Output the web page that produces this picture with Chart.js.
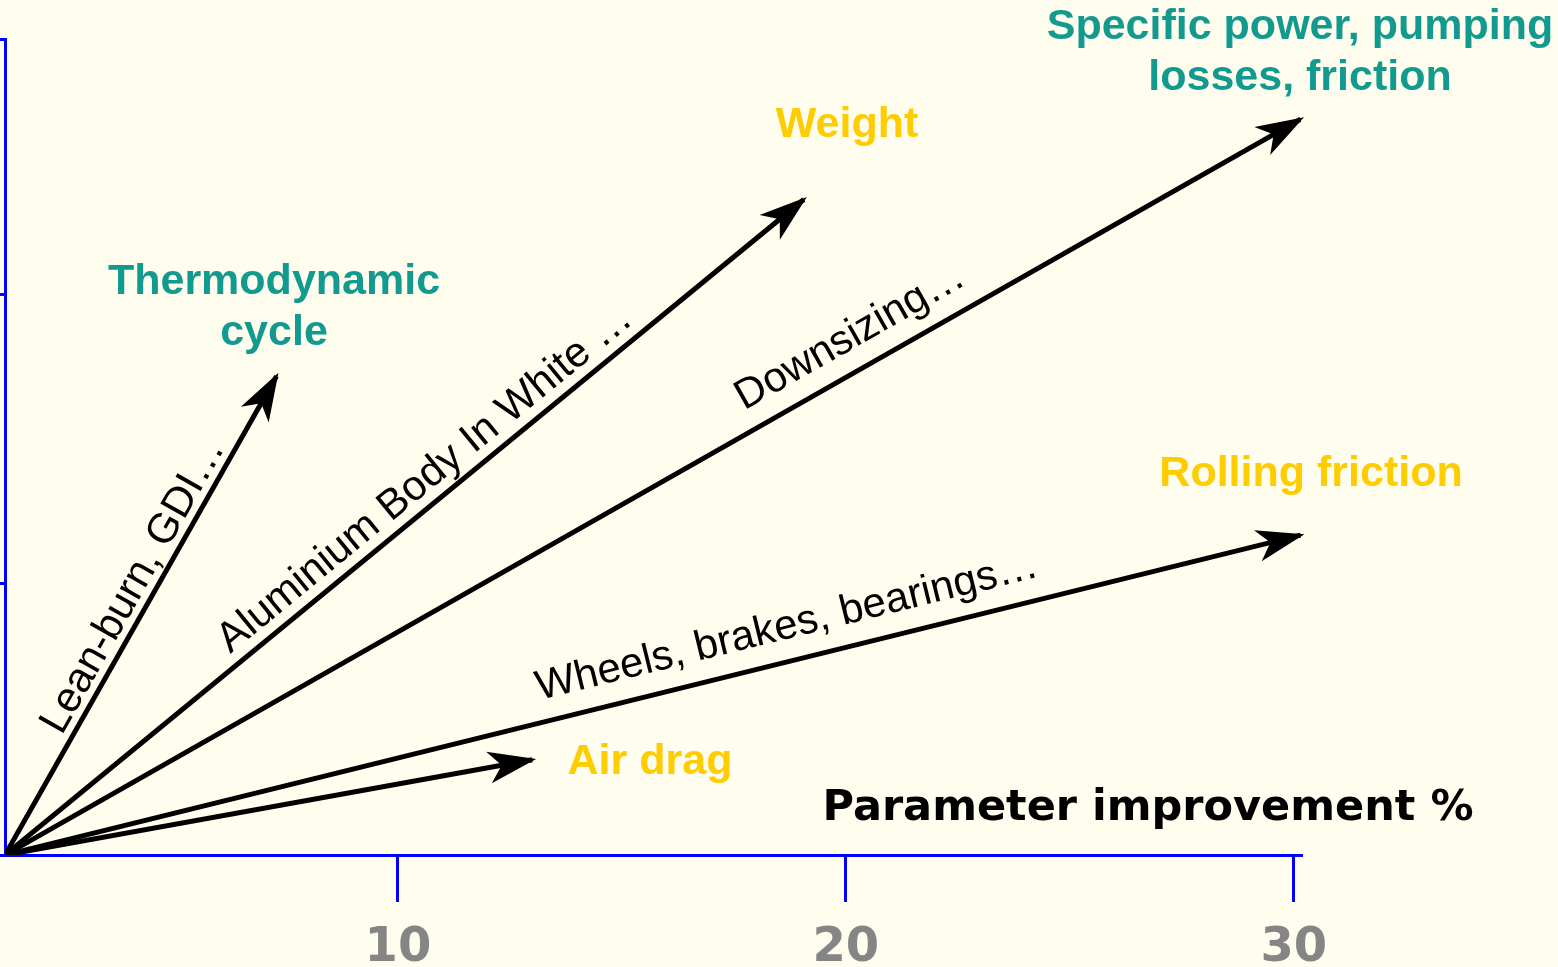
<!DOCTYPE html>
<html>
<head>
<meta charset="utf-8">
<script src="https://cdn.jsdelivr.net/npm/chart.js@4.4.1/dist/chart.umd.min.js"></script>
<style>
  html, body { margin: 0; padding: 0; background: #FFFDEE; }
  #wrap { width: 1558px; height: 967px; position: relative; }
</style>
</head>
<body>
<div id="wrap"><canvas id="vectors"></canvas></div>
<script>
'use strict'

// arrows: all start at the origin of the axes
var arrowNames = ['Air drag', 'Rolling friction', 'Specific power', 'Weight', 'Thermodynamic cycle']
var arrowEndX = [13.0, 30.15, 30.15, 19.06, 7.29]
var arrowEndY = [3.5, 11.76, 27.05, 24.1, 17.6]
var originX = 1.23
var originY = 0

// axes
var xTicks = [10, 20, 30]
var yTicks = [0, 10, 20.6, 30]
var xTitle = 'Parameter improvement %'

// words written along each arrow (t = share of the arrow, off = px away from it)
var arrowNotes = [
  { arrow: 1, text: 'Wheels, brakes, bearings…', t: 0.61, off: 34 },
  { arrow: 2, text: 'Downsizing…', t: 0.665, off: 33 },
  { arrow: 3, text: 'Aluminium Body In White …', t: 0.545, off: 24 },
  { arrow: 4, text: 'Lean-burn, GDI…', t: 0.54, off: 21 }
]

// coloured headings, placed in pixels
var teal = '#139A8F'
var gold = '#FFCC00'
var headings = [
  { lines: ['Thermodynamic', 'cycle'], x: 274, y: 282, color: teal },
  { lines: ['Weight'], x: 847, y: 125, color: gold },
  { lines: ['Specific power, pumping', 'losses, friction'], x: 1300, y: 27, color: teal },
  { lines: ['Rolling friction'], x: 1311, y: 474, color: gold },
  { lines: ['Air drag'], x: 650, y: 762, color: gold }
]

var datasets = arrowNames.map(function (name, i) {
  return {
    label: name,
    data: [{ x: originX, y: originY }, { x: arrowEndX[i], y: arrowEndY[i] }],
    showLine: true,
    borderColor: '#000',
    borderWidth: 5,
    pointRadius: 0,
    fill: false
  }
})

var arrowPlugin = {
  id: 'arrowPlugin',
  afterDatasetsDraw: function (chart) {
    var ctx = chart.ctx
    ctx.save()

    // arrow heads
    chart.data.datasets.forEach(function (ds, i) {
      var pts = chart.getDatasetMeta(i).data
      var a = pts[0], b = pts[1]
      var ang = Math.atan2(b.y - a.y, b.x - a.x)
      ctx.save()
      ctx.translate(b.x, b.y)
      ctx.rotate(ang)
      ctx.beginPath()
      ctx.moveTo(4, 0)
      ctx.lineTo(-44, -16)
      ctx.lineTo(-31, 0)
      ctx.lineTo(-44, 16)
      ctx.closePath()
      ctx.fillStyle = '#000'
      ctx.fill()
      ctx.restore()
    })

    // text along arrows
    ctx.font = '42px "Liberation Sans", Arial, sans-serif'
    ctx.fillStyle = '#000'
    ctx.textAlign = 'center'
    ctx.textBaseline = 'middle'
    arrowNotes.forEach(function (n) {
      var pts = chart.getDatasetMeta(n.arrow).data
      var a = pts[0], b = pts[1]
      var ang = Math.atan2(b.y - a.y, b.x - a.x)
      var cx = a.x + (b.x - a.x) * n.t + Math.sin(ang) * n.off
      var cy = a.y + (b.y - a.y) * n.t - Math.cos(ang) * n.off
      ctx.save()
      ctx.translate(cx, cy)
      ctx.rotate(ang)
      ctx.fillText(n.text, 0, 0)
      ctx.restore()
    })

    // headings
    ctx.font = 'bold 43px "Liberation Sans", Arial, sans-serif'
    headings.forEach(function (h) {
      ctx.fillStyle = h.color
      h.lines.forEach(function (line, k) {
        ctx.fillText(line, h.x, h.y + k * 51)
      })
    })

    // axis title
    ctx.font = 'bold 43px "DejaVu Sans", Verdana, sans-serif'
    ctx.fillStyle = '#000'
    ctx.fillText(xTitle, 1148, 809)
    ctx.restore()
  }
}

var ctx = document.getElementById('vectors').getContext('2d')
var chart = new Chart(ctx, {
  type: 'scatter',
  data: { datasets: datasets },
  options: {
    responsive: true,
    maintainAspectRatio: false,
    animation: false,
    layout: { padding: { top: 39, right: 257, left: 0, bottom: 0 } },
    plugins: {
      legend: { display: false },
      tooltip: { enabled: false }
    },
    scales: {
      x: {
        type: 'linear',
        min: originX,
        max: 30.16,
        afterBuildTicks: function (scale) {
          scale.ticks = xTicks.map(function (v) { return { value: v } })
        },
        afterFit: function (scale) { scale.height = 112 },
        border: { color: '#0000FF', width: 3 },
        grid: { drawOnChartArea: false, drawTicks: true, tickLength: 47, color: '#0000FF', lineWidth: 3 },
        ticks: {
          color: '#858585',
          padding: 18,
          maxRotation: 0,
          autoSkip: false,
          font: { family: '"DejaVu Sans", Verdana, sans-serif', size: 48, weight: 'bold' }
        }
      },
      y: {
        type: 'linear',
        min: 0,
        max: 30,
        afterBuildTicks: function (scale) {
          scale.ticks = yTicks.map(function (v) { return { value: v } })
        },
        afterFit: function (scale) { scale.width = 5 },
        border: { color: '#0000FF', width: 3 },
        grid: { drawOnChartArea: false, drawTicks: true, tickLength: 5, color: '#0000FF', lineWidth: 3 },
        ticks: { display: false }
      }
    }
  },
  plugins: [arrowPlugin]
})
</script>
</body>
</html>
